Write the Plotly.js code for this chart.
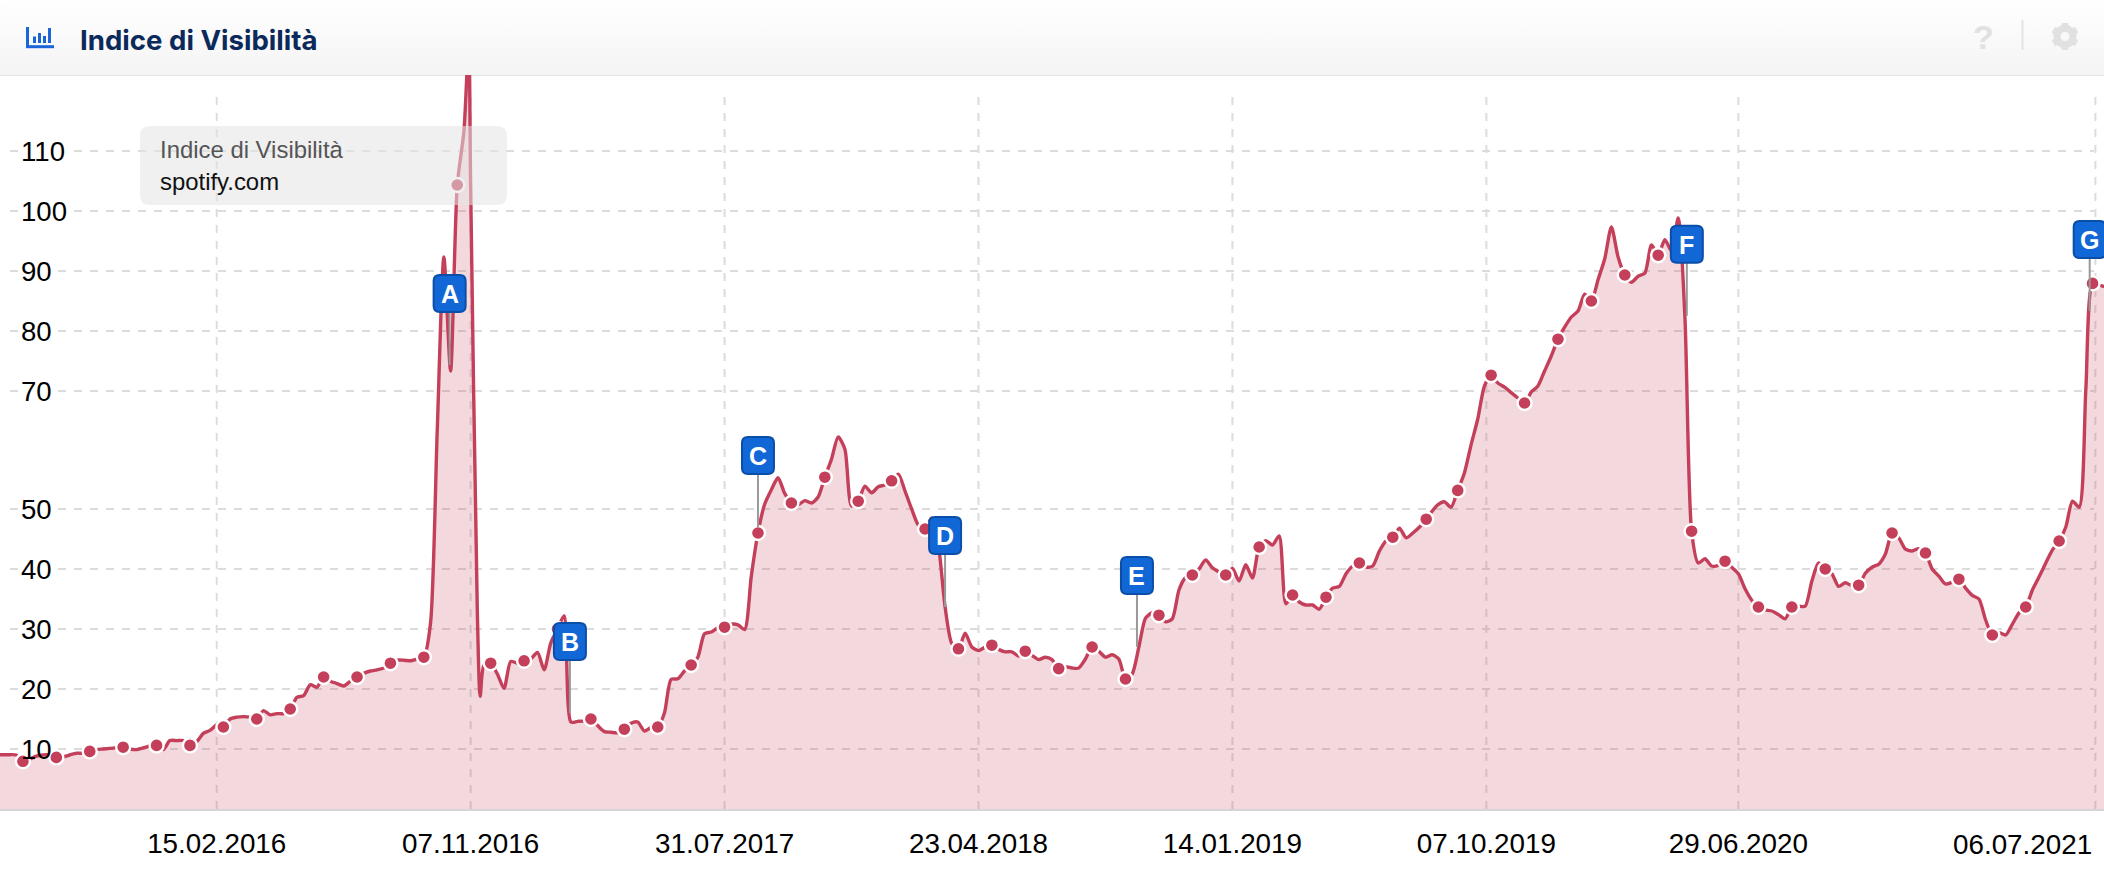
<!DOCTYPE html>
<html><head><meta charset="utf-8">
<script src="https://cdn.plot.ly/plotly-3.0.1.min.js"></script>
<style>
html,body{margin:0;padding:0;background:#fff;width:2104px;height:874px;overflow:hidden}
#head{position:absolute;left:0;top:0;width:2104px;height:75px;background:linear-gradient(#ffffff,#f4f4f4);border-bottom:1.5px solid #e4e4e4;border-radius:6px 6px 0 0}
#icons{position:absolute;left:0;top:0}
#chart{position:absolute;left:0;top:0;width:2104px;height:874px}
</style></head><body>
<div id="head"></div>
<svg id="icons" width="2104" height="76">
 <g fill="#1a66d9">
  <rect x="26" y="27" width="3" height="21"/><rect x="26" y="45.2" width="28" height="3"/>
  <rect x="33" y="36.5" width="3" height="6.5"/><rect x="38" y="33" width="3" height="10"/><rect x="43" y="36" width="3" height="7"/><rect x="48" y="28" width="3" height="15"/>
 </g>
 <rect x="2021.5" y="20" width="2" height="30" fill="#e3e3e3"/>
 <g transform="translate(2065,36.5)" fill="#e1e1e1">
  <circle r="8" fill="none" stroke="#e1e1e1" stroke-width="7"/>
  <g id="t"><rect x="-3.4" y="-13.5" width="6.8" height="5" rx="1"/></g>
  <use href="#t" transform="rotate(60)"/><use href="#t" transform="rotate(120)"/><use href="#t" transform="rotate(180)"/><use href="#t" transform="rotate(240)"/><use href="#t" transform="rotate(300)"/>
 </g>
</svg>
<div id="chart"></div>
<script>
// Weekly visibility index, first value = week of 2015-06-29
const firstWeek = '2015-06-29';
const visibility = [
9.05,9.05,9.05,9.0,7.95,8.3,8.8,9.0,9.0,8.6,8.7,9.0,9.3,9.3,9.6,9.9,10,10.1,10.2,10.3,10,
9.9,10.2,10.5,10.6,9.9,11.4,11.4,11.4,10.6,11.2,12.6,13.1,14,13.67,15,15.3,15.4,15.3,15,16.4,
15.7,15.9,15.9,16.67,18.6,18.9,20.7,20.3,22,21.3,20.9,20.5,21.3,22,22.6,23,23.2,23.5,24.3,24.8,
24.8,24.7,25,25.3,31,63,92,73,104,113,104,33,24,24.3,22.5,20.1,24.6,24.3,24.7,25,
26.1,23.2,27.7,30,32.2,14.5,14.6,14.7,15,13.9,12.9,12.8,12.7,13.3,14.3,14.5,13,13.6,13.67,16,
21.6,21.7,23,24,25.3,29.2,29.5,30.2,30.3,30.8,30.7,29.9,38.8,46,50.8,53.2,55.2,52.6,51,50.7,
51.4,51,52,55.3,58.3,62,60,50.5,51.3,53.8,52.7,53.7,54,54.7,55.8,53,50,47.3,46.67,48.5,
44,33.7,27.6,26.7,29.3,27,26.4,27,27.3,26.6,26.2,26.2,25.5,26.3,25.6,24.9,25.3,24.9,23.4,23.7,
23.5,23.5,25,27,26.3,25.3,25.7,25,21.67,22.5,27,31.8,32.7,32.3,31.2,31.7,36.5,38.6,39,40,
41.5,40.2,39.5,39,40.1,38,40.7,38.5,43.67,44.7,44,45.5,34.2,35.67,34.5,34,34,33.3,35.3,36.8,
37.1,39.2,40.5,41,40.3,40.5,43,44.7,45.3,46.8,45.2,46,47,48.3,49.8,50.7,51.2,50.3,53.1,56,
60.7,65,70.5,72.3,71,70.3,69.4,68.5,67.67,69.5,70.5,73,75.5,78.3,80.3,82,83,85.8,84.67,88.2,
91.7,97,92,89,87.8,88.8,89.3,94,92.3,94.9,93,98.5,82,46.3,41,41.7,40.5,40.6,41.3,40.3,
39.2,36.7,34.8,33.67,33.2,33,32.4,31.7,33.67,33.8,33.8,38,41,40,39.2,37.1,37.7,37.2,37.3,39.3,
40.3,40.8,42.5,46,45.2,43.3,43,43.4,42.67,40,38.8,37.5,37.8,38.3,36.8,35.6,35,31.5,29,29.4,
29,30.8,32.7,33.67,36.5,38.7,41,43.2,44.67,47,51.3,50.3,70,87.6,87.3,87
];
// Off-week readings around the big spike
const extraDates = ['2016-11-05','2016-11-17'];
const extraValues = [128,18.8];
const dotEvery = 5, dotFirst = 4;
// Later samples sit slightly left of the weekly grid in the picture
const lateShiftFromWeek = 216, lateShiftDays = 2;
const yTickVals = [10,20,30,40,50,69.67,79.67,89.67,99.67,109.67];
const yTickText = ['10','20','30','40','50','70','80','90','100','110'];
const xTickVals = ['2016-02-15','2016-11-07','2017-07-31','2018-04-23','2019-01-14','2019-10-07','2020-06-27'];
const xTickText = ['15.02.2016','07.11.2016','31.07.2017','23.04.2018','14.01.2019','07.10.2019','29.06.2020'];
const lastTickVal = '2021-07-06', lastTickText = '06.07.2021';
const flagLetters = ['A','B','C','D','E','F','G'];
const flagDates = ['2016-10-16','2017-02-19','2017-09-04','2018-03-19','2018-10-06','2020-05-04','2021-06-30'];
const flagValues = [74,16,47,33.67,27,82.2,83];
const titleText = 'Indice di Visibilità', legendTitle = 'Indice di Visibilità', legendDomain = 'spotify.com';

const W = 2104, H = 874, T = 75, B = 65;
const RED = '#c43f5a';
const DAY = 864e5;
const weekDate = k => new Date(Date.parse(firstWeek) + k*7*DAY).toISOString().slice(0,10);
const weeks = visibility.map((_,k)=>new Date(Date.parse(firstWeek) + (k*7-(k>=lateShiftFromWeek?lateShiftDays:0))*DAY).toISOString().slice(0,10));
const merged = weeks.map((d,i)=>[d,visibility[i]]).concat(extraDates.map((d,i)=>[d,extraValues[i]])).sort((a,b)=>a[0]<b[0]?-1:1);
const dotIdx = visibility.map((_,k)=>k).filter(k=>(k-dotFirst)%dotEvery===0 && k>=dotFirst);
const fx = px => px/W, fy = py => (H-B-py)/(H-B-T);

function roundRect(x0,y0,x1,y1,r){ // y up, pixels
  return `M ${x0+r} ${y0} L ${x1-r} ${y0} Q ${x1} ${y0} ${x1} ${y0+r} L ${x1} ${y1-r} Q ${x1} ${y1} ${x1-r} ${y1} L ${x0+r} ${y1} Q ${x0} ${y1} ${x0} ${y1-r} L ${x0} ${y0+r} Q ${x0} ${y0} ${x0+r} ${y0} Z`;
}
const shapes = [];
const gridStyle = {color:'#dcdcdc',width:2,dash:'8px,8px'};
yTickVals.forEach((v,i)=>{
  const rightStart = yTickText[i].length>2 ? 74 : 58;
  shapes.push({type:'line',layer:'below',xref:'paper',yref:'y',x0:fx(10),x1:fx(18),y0:v,y1:v,line:gridStyle});
  shapes.push({type:'line',layer:'below',xref:'paper',yref:'y',x0:fx(rightStart),x1:fx(2094),y0:v,y1:v,line:gridStyle});
});
xTickVals.concat([lastTickVal]).forEach(d=>{
  shapes.push({type:'line',layer:'below',xref:'x',yref:'y',x0:d,x1:d,y0:0,y1:118.8,line:gridStyle});
});
// legend card over the plot
const bx0=140,bx1=507,by0=126,by1=205,br=10;
{
  const rx=br/W, ry=br/(H-B-T), a=fx(bx0),b=fx(bx1),c=fy(by1),d=fy(by0);
  shapes.push({type:'path',layer:'above',xref:'paper',yref:'paper',line:{width:0},fillcolor:'rgba(228,228,228,0.55)',
   path:`M ${a+rx} ${c} L ${b-rx} ${c} Q ${b} ${c} ${b} ${c+ry} L ${b} ${d-ry} Q ${b} ${d} ${b-rx} ${d} L ${a+rx} ${d} Q ${a} ${d} ${a} ${d-ry} L ${a} ${c+ry} Q ${a} ${c} ${a+rx} ${c} Z`});
}
const annotations = [
 {xref:'paper',yref:'paper',x:fx(158),y:fy(149),xanchor:'left',yanchor:'middle',showarrow:false,text:legendTitle,font:{family:'Liberation Sans',size:23.9,color:'#555'}},
 {xref:'paper',yref:'paper',x:fx(158),y:fy(181),xanchor:'left',yanchor:'middle',showarrow:false,text:legendDomain,font:{family:'Liberation Sans',size:23.9,color:'#111'}},
 {xref:'x',yref:'paper',x:lastTickVal,y:fy(844),xanchor:'right',yanchor:'middle',xshift:-1,showarrow:false,text:lastTickText,font:{family:'Liberation Sans',size:27.8,color:'#000'}},
 {xref:'paper',yref:'paper',x:fx(1983),y:fy(37),xanchor:'center',yanchor:'middle',showarrow:false,text:'?',font:{family:'Liberation Sans',size:34,color:'#e1e1e1',weight:700}}
];
flagLetters.forEach((L,i)=>{
  const common = {type:'path',layer:'above',xref:'x',yref:'y',xsizemode:'pixel',ysizemode:'pixel',xanchor:flagDates[i],yanchor:flagValues[i]};
  shapes.push(Object.assign({},common,{path:'M 0 0 L 0 53',line:{color:'#999',width:2}}));
  shapes.push(Object.assign({},common,{path:roundRect(-16,53,16,90,6),fillcolor:'#1267d6',line:{color:'#0b4ea8',width:2}}));
  annotations.push({xref:'x',yref:'y',x:flagDates[i],y:flagValues[i],yshift:71,xanchor:'center',yanchor:'middle',showarrow:false,text:L,font:{family:'Liberation Sans',size:25,color:'#fff',weight:700}});
});

const traces = [
 {type:'scatter',mode:'lines',x:merged.map(p=>p[0]),y:merged.map(p=>p[1]),fill:'tozeroy',fillcolor:'rgba(196,63,90,0.2)',
  line:{color:RED,width:3.4,shape:'spline',smoothing:0.7},hoverinfo:'skip',showlegend:false},
 {type:'scatter',mode:'markers',x:dotIdx.map(k=>weeks[k]),y:dotIdx.map(k=>visibility[k]),
  marker:{color:RED,size:14,line:{color:'#fff',width:2.4}},hoverinfo:'skip',showlegend:false}
];
const layout = {
 width:W,height:H,margin:{l:0,r:0,t:T,b:B},autosize:false,
 paper_bgcolor:'rgba(0,0,0,0)',plot_bgcolor:'rgba(0,0,0,0)',showlegend:false,
 title:{text:titleText,x:fx(80),xanchor:'left',y:1-40/H,yanchor:'middle',xref:'container',yref:'container',
   font:{family:'Inter',size:27.6,color:'#0b2a5b',weight:700}},
 xaxis:{type:'date',range:[weekDate(0.686),weekDate(315.47)],tickmode:'array',tickvals:xTickVals,ticktext:xTickText,
   showgrid:false,zeroline:false,showline:true,linecolor:'#d8d4d5',linewidth:1.5,ticks:'',ticklabelstandoff:9,
   tickfont:{family:'Liberation Sans',size:27.8,color:'#000'}},
 yaxis:{range:[0,(H-B-T)/6],tickmode:'array',tickvals:yTickVals,ticktext:yTickText,showgrid:false,zeroline:false,showline:false,
   ticks:'',ticklabelposition:'inside',ticklabelstandoff:18,tickfont:{family:'Liberation Sans',size:27.6,color:'#000'}},
 shapes,annotations
};
Plotly.newPlot('chart',traces,layout,{displayModeBar:false,staticPlot:true});
</script></body></html>
